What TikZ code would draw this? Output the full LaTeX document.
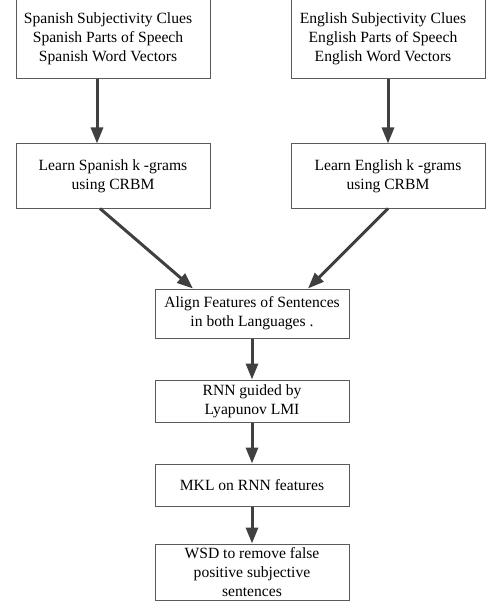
\documentclass[tikz,border=0pt]{standalone}
\usepackage{fontspec}
\setmainfont{Liberation Serif}
\usetikzlibrary{arrows.meta}
\definecolor{boxline}{HTML}{5A5A5A}
\definecolor{arrowc}{HTML}{404040}
\begin{document}
\begin{tikzpicture}[x=1pt,y=-1pt,
  box/.style={draw=boxline, line width=1pt, align=center, inner sep=0pt,
    font=\fontsize{15.6}{19}\selectfont},
  flow/.style={draw=arrowc, line width=3pt, -{Triangle[width=12pt,length=16pt]}}]
\useasboundingbox (0,0) rectangle (486,604);
\clip (0,0) rectangle (486,604);
% top boxes
\node[box, minimum width=194pt, minimum height=81pt] (sin) at (113,38.5)
  {\begin{tabular}{@{}c@{}}Spanish Subjectivity Clues\\Spanish Parts of Speech\\Spanish Word Vectors\end{tabular}\hspace{10pt}};
\node[box, minimum width=194pt, minimum height=81pt] (ein) at (388,38.5)
  {\begin{tabular}{@{}c@{}}English Subjectivity Clues\\English Parts of Speech\\English Word Vectors\end{tabular}\hspace{10pt}};
% k-gram boxes
\node[box, minimum width=194pt, minimum height=64pt] (skg) at (113,176)
  {Learn Spanish k -grams\\using CRBM};
\node[box, minimum width=194pt, minimum height=64pt] (ekg) at (388,176)
  {Learn English k -grams\\using CRBM};
% central column
\node[box, minimum width=194pt, minimum height=49pt] (align) at (252,313.5)
  {Align Features of Sentences\\in both Languages .};
\node[box, minimum width=194pt, minimum height=42pt] (rnn) at (252,401)
  {RNN guided by\\Lyapunov LMI};
\node[box, minimum width=194pt, minimum height=42pt] (mkl) at (252,485)
  {MKL on RNN features};
\node[box, minimum width=194pt, minimum height=56pt] (wsd) at (252,572)
  {WSD to remove false\\positive subjective\\sentences};
% connectors
\coordinate (s1) at ([xshift=-16pt]sin.south);
\coordinate (s2) at ([xshift=-16pt]skg.north);
\draw[flow] (s1) -- (s2);
\draw[flow] (ein.south) -- (ekg.north);
\coordinate (s3) at ([xshift=-13pt]skg.south);
\coordinate (s4) at ([xshift=-59pt]align.north);
\draw[flow] (s3) -- (s4);
\coordinate (e3) at ([xshift=0pt]ekg.south);
\coordinate (e4) at ([xshift=56pt]align.north);
\draw[flow] (e3) -- (e4);
\draw[flow] (align.south) -- (rnn.north);
\draw[flow] (rnn.south) -- (mkl.north);
\draw[flow] (mkl.south) -- (wsd.north);
\end{tikzpicture}
\end{document}
